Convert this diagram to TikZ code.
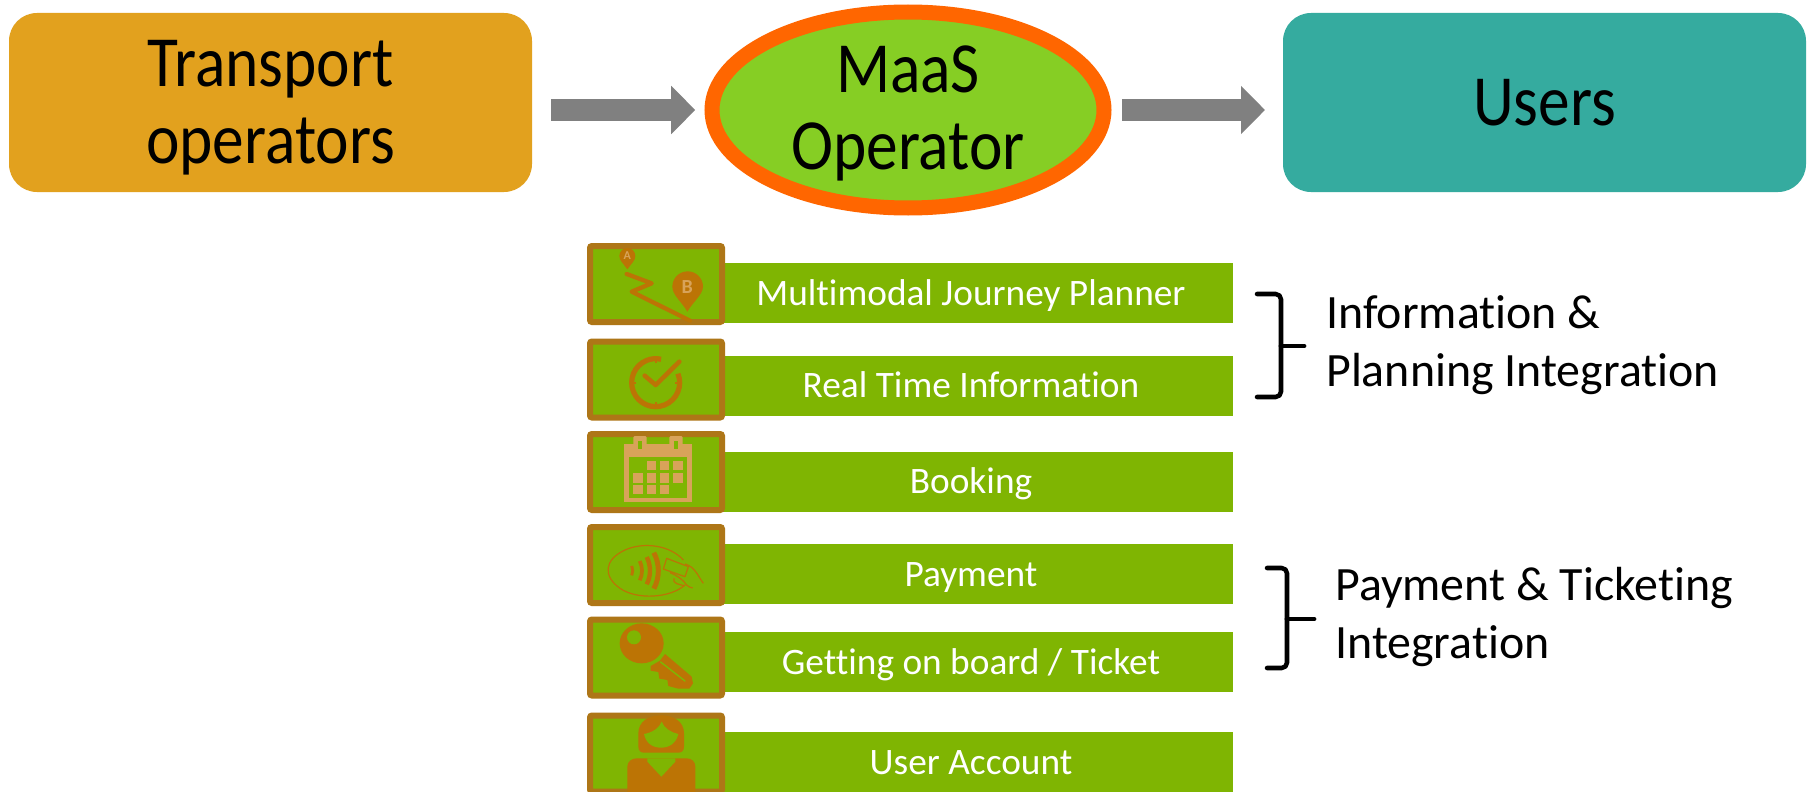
\documentclass[tikz,border=0pt]{standalone}
\usepackage{fontspec}
\setmainfont{Carlito}[RawFeature=-liga]
\newfontfamily\narrowfont{Carlito}[FakeStretch=0.88,RawFeature=-liga]
\usetikzlibrary{arrows.meta,shapes.geometric,calc}
\definecolor{opgold}{HTML}{E2A11E}
\definecolor{userteal}{HTML}{35AB9F}
\definecolor{maasgreen}{HTML}{86CE24}
\definecolor{maasorange}{HTML}{FF6600}
\definecolor{bargreen}{HTML}{7FB502}
\definecolor{frameb}{HTML}{AE7617}
\definecolor{glyph}{HTML}{BC7405}
\definecolor{calglyph}{HTML}{D8A35A}
\definecolor{arrowgray}{HTML}{808080}
\newcommand{\bigtext}{\narrowfont\fontsize{54pt}{57.3pt}\selectfont}
\newcommand{\bartext}{\fontsize{28pt}{30pt}\selectfont}
\newcommand{\sidetext}{\fontsize{35.9pt}{43pt}\selectfont}
\newcommand{\lowered}[2]{\raisebox{-#1}[0pt][0pt]{#2}}
\tikzset{
  mainbox/.style={rounded corners=21pt,minimum width=392.25pt,minimum height=134.25pt,inner sep=0pt,outer sep=0pt,align=center,font=\bigtext,text=black},
  maasnode/.style={ellipse,draw=maasorange,fill=maasgreen,line width=11.25pt,minimum width=294pt,minimum height=147pt,inner sep=0pt,outer sep=0pt,align=center,font=\bigtext,text=black},
  blockarrow/.style={draw=arrowgray,line width=16.5pt,-{Triangle[length=18pt,width=35.25pt,fill=arrowgray]}},
  barbox/.style={fill=bargreen,minimum width=393pt,minimum height=45pt,inner sep=0pt,outer sep=0pt,text=white,font=\bartext},
  iconframe/.style={draw=frameb,fill=bargreen,line width=4.5pt,rounded corners=1.5pt,minimum width=99pt,minimum height=57pt,inner sep=0pt,outer sep=0pt},
  bracket/.style={draw=black,line width=3.4pt,line cap=round,line join=round,rounded corners=4pt},
  sidelabel/.style={anchor=west,align=left,font=\sidetext,text=black,inner sep=0pt},
  zoomed/.style={x=0.25pt,y=-0.25pt},
  pinletter/.style={text=calglyph,inner sep=0pt,font=\bfseries}
}
\begin{document}
\begin{tikzpicture}[x=0.75pt,y=-0.75pt]
\useasboundingbox (0,0) rectangle (1813,792);
\clip (0,0) rectangle (1813,792);
\fill[white] (0,0) rectangle (1813,792);
% top row
\node[mainbox,fill=opgold] (op) at (270.5,102.5) {\lowered{16.8pt}{Transport}\\\lowered{16.8pt}{operators}};
\node[maasnode] (maas) at (908,110) {\lowered{15.8pt}{MaaS}\\\lowered{15.8pt}{Operator}};
\node[mainbox,fill=userteal] (users) at (1544.5,102.5) {Users};
\draw[blockarrow,shorten <=14.25pt,shorten >=7pt] (op.east |- maas.west) -- ([xshift=-5.6pt]maas.west);
\draw[blockarrow,shorten <=7.9pt,shorten >=13.5pt] ([xshift=5.6pt]maas.east) -- (users.west |- maas.east);
% bars
\node[barbox] (b1) at (971,293) {\lowered{9pt}{Multimodal Journey Planner}};
\node[barbox] (b2) at (971,386) {\lowered{8.3pt}{Real Time Information}};
\node[barbox] (b3) at (971,482) {\lowered{8.3pt}{Booking}};
\node[barbox] (b4) at (971,574) {\lowered{9pt}{Payment}};
\node[barbox] (b5) at (971,662) {\lowered{9pt}{Getting on board / Ticket}};
\node[barbox] (b6) at (971,762) {\lowered{9pt}{User Account}};
% icon frames
\node[iconframe] (i1) at (656,284) {};
\node[iconframe] (i2) at (656,379.5) {};
\node[iconframe] (i3) at (656,472) {};
\node[iconframe] (i4) at (656,565) {};
\node[iconframe] (i5) at (656,657.5) {};
\node[iconframe] (i6) at (656,753.5) {};
% icon 1: route
\begin{scope}[shift={(570,230)},zoomed]
  \fill[glyph] (172,118) .. controls (160,100) and (148,92) .. (148,78) arc[start angle=180,end angle=360,radius=24] .. controls (196,92) and (184,100) .. (172,118) -- cycle;
  \node[pinletter,font=\bfseries\fontsize{9pt}{9pt}\selectfont] (pina) at (172,77) {A};
  \fill[glyph] (352,245) .. controls (335,215) and (307,195) .. (307,170) arc[start angle=180,end angle=360,radius=46] .. controls (398,195) and (369,215) .. (352,245) -- cycle;
  \node[pinletter,font=\bfseries\fontsize{15pt}{15pt}\selectfont] (pinb) at (352,170) {B};
  \draw[glyph,line width=3.2pt,line join=round,line cap=round] (170,132) -- (245,160) -- (185,185) -- (360,272);
\end{scope}
% icon 2: clock
\begin{scope}[shift={(570,230)},zoomed]
  \draw[glyph,line width=3.9pt] (257,458) ++(-22:72) arc[start angle=-22,end angle=283,radius=72];
  \foreach \a in {0,90,180,270}{\draw[glyph,line width=1.5pt] (257,458) ++(\a:58) -- ++(\a:14);}
  \draw[glyph,line width=3.4pt,line cap=round,line join=round] (224,437) -- (257,465) -- (328,395);
\end{scope}
% icon 3: calendar
\begin{scope}[shift={(570,420)},zoomed]
  \fill[calglyph] (163,72) rectangle (365,246);
  \fill[calglyph,rounded corners=1pt] (190,48) rectangle (230,80);
  \fill[calglyph,rounded corners=1pt] (298,48) rectangle (338,80);
  \fill[bargreen] (203,62) rectangle (217,88);
  \fill[bargreen] (311,62) rectangle (325,88);
  \fill[bargreen] (177,112) rectangle (352,233);
  \foreach \cx/\cy in {230/122,270/122,310/122,190/160,230/160,270/160,310/160,190/195,230/195,270/195}
    {\fill[calglyph] (\cx,\cy) rectangle ++(28,28);}
\end{scope}
% icon 4: contactless payment
\begin{scope}[shift={(570,420)},zoomed]
  \draw[glyph,line width=0.9pt] (345,495) .. controls (300,535) and (200,540) .. (150,505) .. controls (100,470) and (100,420) .. (165,390) .. controls (220,365) and (300,375) .. (340,420);
  \draw[glyph,line width=2.2pt] (150,452) ++(-22:38) arc[start angle=-22,end angle=22,radius=38];
  \draw[glyph,line width=2.8pt] (150,452) ++(-26:66) arc[start angle=-26,end angle=26,radius=66];
  \draw[glyph,line width=3.3pt] (150,452) ++(-27:90) arc[start angle=-27,end angle=27,radius=90];
  \draw[glyph,line width=3.7pt] (150,452) ++(-28:115) arc[start angle=-28,end angle=28,radius=115];
  \draw[glyph,line width=0.9pt,line join=round] (290,415) -- (355,440) -- (345,470) -- (280,447) -- cycle;
  \draw[glyph,line width=0.9pt,line join=round] (345,432) .. controls (375,440) and (385,470) .. (400,490);
  \draw[glyph,line width=0.9pt,line join=round] (300,458) .. controls (320,465) and (340,480) .. (350,495) .. controls (360,505) and (370,503) .. (368,503);
  \draw[glyph,line width=0.9pt,line join=round] (312,475) .. controls (305,490) and (330,495) .. (345,497);
\end{scope}
% icon 5: key
\begin{scope}[shift={(570,600)},zoomed]
  \fill[glyph] (215,130) ellipse[x radius=66,y radius=60];
  \fill[bargreen] (192,112) circle[radius=21];
  \fill[glyph,line join=round] (285,162) -- (365,230) -- (369,250) -- (358,266) -- (325,266) -- (295,258) -- (292,240) -- (268,236) -- (265,216) -- (242,212) -- (242,198) -- (270,182) -- cycle;
  \draw[bargreen,line width=1.1pt,line cap=round] (272,186) -- (345,243);
\end{scope}
% icon 6: person
\begin{scope}[shift={(570,600)},zoomed]
  \fill[glyph] (205,440) -- (205,400) .. controls (205,365) and (235,346) .. (273,346) .. controls (312,346) and (342,365) .. (342,400) -- (342,440) .. controls (342,452) and (335,458) .. (325,458) -- (222,458) .. controls (212,458) and (205,452) .. (205,440) -- cycle;
  \fill[bargreen] (222,402) .. controls (245,398) and (268,385) .. (275,365) .. controls (282,385) and (305,398) .. (325,402) .. controls (318,430) and (298,443) .. (273,443) .. controls (248,443) and (228,430) .. (222,402) -- cycle;
  \fill[glyph] (172,600) -- (172,500) .. controls (172,485) and (185,475) .. (200,475) -- (350,475) .. controls (365,475) and (376,485) .. (376,500) -- (376,600) -- cycle;
  \fill[bargreen] (232,475) -- (316,475) -- (316,485) -- (274,530) -- (232,485) -- cycle;
\end{scope}
% brackets
\coordinate (t1) at (1257,294);
\coordinate (m1) at (1281,346);
\coordinate (e1) at (1304,346);
\coordinate (u1) at (1257,397);
\draw[bracket] (t1) -- (1281,294) -- (1281,397) -- (u1);
\draw[draw=black,line width=3.6pt,line cap=round] (m1) -- (e1);
\coordinate (t2) at (1267,568);
\coordinate (m2) at (1287,619);
\coordinate (e2) at (1314,619);
\coordinate (u2) at (1267,668);
\draw[bracket] (t2) -- (1287,568) -- (1287,668) -- (u2);
\draw[draw=black,line width=3.6pt,line cap=round] (m2) -- (e2);
% side labels
\node[sidelabel] (l1) at (1326,345) {Information \&\\Planning Integration};
\node[sidelabel] (l2) at (1335,617) {Payment \& Ticketing\\Integration};
\end{tikzpicture}
\end{document}
